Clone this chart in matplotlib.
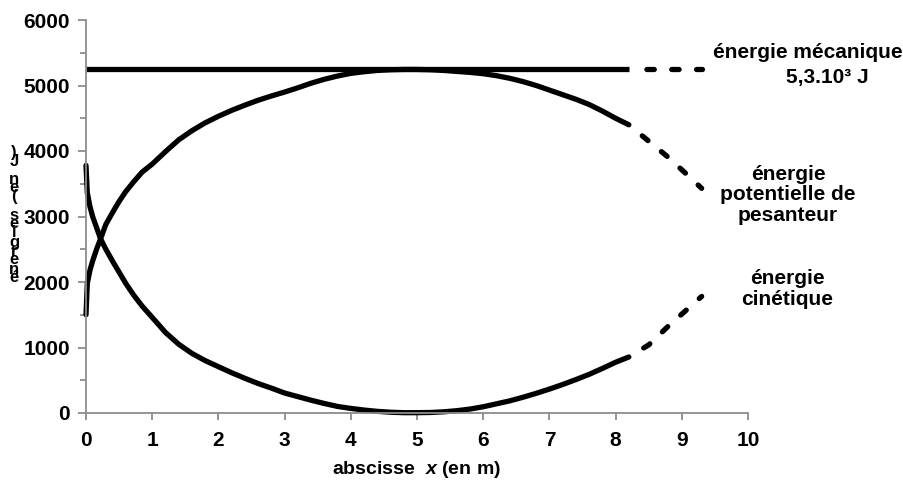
import matplotlib
matplotlib.use("Agg")
import matplotlib.pyplot as plt

plt.rcParams['font.family'] = ['Liberation Sans', 'DejaVu Sans']
plt.rcParams['mathtext.fontset'] = 'custom'
plt.rcParams['mathtext.it'] = 'Liberation Sans:italic:bold'
plt.rcParams['mathtext.rm'] = 'Liberation Sans:bold'

# measured part (solid)
x = [0, 0.02, 0.06, 0.1, 0.16, 0.22, 0.3, 0.4, 0.5, 0.6, 0.72, 0.85, 1.0,
     1.2, 1.4, 1.6, 1.8, 2.0, 2.2, 2.4, 2.6, 2.8, 3.0, 3.2, 3.4, 3.6, 3.8,
     4.0, 4.2, 4.4, 4.6, 4.8, 5.0, 5.2, 5.4, 5.6, 5.8, 6.0, 6.2, 6.4, 6.6,
     6.8, 7.0, 7.2, 7.4, 7.6, 7.8, 8.0, 8.2]
ec = [3780, 3360, 3150, 3000, 2830, 2660, 2500, 2320, 2150, 1980, 1800, 1630,
      1460, 1230, 1050, 910, 800, 707, 615, 530, 450, 380, 305, 250, 195, 145,
      100, 70, 45, 25, 12, 5, 5, 8, 18, 35, 60, 95, 140, 185, 240, 300, 365,
      435, 510, 590, 680, 775, 855]
ep = [1500, 1980, 2180, 2320, 2500, 2660, 2880, 3060, 3230, 3380, 3530, 3680,
      3800, 3990, 4170, 4310, 4430, 4530, 4620, 4700, 4775, 4840, 4900, 4965,
      5035, 5095, 5145, 5185, 5210, 5230, 5240, 5245, 5245, 5240, 5230, 5215,
      5200, 5180, 5150, 5110, 5060, 5000, 4930, 4860, 4790, 4710, 4610, 4500,
      4400]
em = 5250

# extrapolated part (dashed)
x_d = [8.2, 8.5, 8.8, 9.1, 9.3]
ec_d = [855, 1040, 1330, 1600, 1780]
ep_d = [4400, 4150, 3900, 3620, 3430]

ylabel = "énergies (en J)"
xlabel = r"abscisse  $x$ (en m)"
lab_em = ["énergie mécanique", "5,3.10³ J"]
lab_ep = "énergie\npotentielle de\npesanteur"
lab_ec = "énergie\ncinétique"

fig = plt.figure(figsize=(9.04, 4.8), dpi=100)
W, H = 904, 480
ax = fig.add_axes([86 / W, 1 - 413 / H, (748 - 86) / W, (413 - 20) / H])

lw = 3.8
dash = (1.4, (1.4, 3.3))
ax.plot([x[0], x[-1]], [em, em], color='black', lw=lw, solid_capstyle='butt', clip_on=False)
ax.plot(x, ep, color='black', lw=lw, solid_capstyle='round', solid_joinstyle='round', clip_on=False)
ax.plot(x, ec, color='black', lw=lw, solid_capstyle='round', solid_joinstyle='round', clip_on=False)
ax.plot([x_d[0], x_d[-1]], [em, em], color='black', lw=lw, linestyle=dash,
        dash_capstyle='round', clip_on=False)
ax.plot(x_d, ep_d, color='black', lw=lw, linestyle=dash, dash_capstyle='round', clip_on=False)
ax.plot(x_d, ec_d, color='black', lw=lw, linestyle=dash, dash_capstyle='round', clip_on=False)

ax.set_xlim(0, 10)
ax.set_ylim(0, 6000)
ax.set_xticks(range(0, 11))
ax.set_yticks(range(0, 6001, 1000))
ax.set_yticks(range(500, 6000, 1000), minor=True)

grey = '#8c8c8c'
for s in ['top', 'right']:
    ax.spines[s].set_visible(False)
for s in ['left', 'bottom']:
    ax.spines[s].set_color(grey)
    ax.spines[s].set_linewidth(1.3)
ax.tick_params(axis='both', which='both', color=grey, width=1.3, direction='out')
ax.tick_params(axis='y', which='major', length=5.5, pad=6, labelsize=15)
ax.tick_params(axis='y', which='minor', length=4.5)
ax.tick_params(axis='x', which='major', length=5, pad=8, labelsize=15)
for t in ax.get_xticklabels() + ax.get_yticklabels():
    t.set_fontweight('bold')

ax.set_xlabel(xlabel, fontsize=14, fontweight='bold')
ax.xaxis.set_label_coords(0.5, -0.145)
ax.xaxis.label.set_va('center')

# stacked y label (characters drawn upright, read bottom to top)
chars = list(ylabel)[::-1]
for i, c in enumerate(chars):
    fig.text(14 / W, 1 - (152 + i * 9) / H, c, fontsize=12, fontweight='bold',
             ha='center', va='center')

fs = 15
fig.text(808 / W, 1 - 53 / H, lab_em[0], fontsize=fs, fontweight='bold', ha='center', va='center')
fig.text(827 / W, 1 - 77 / H, lab_em[1], fontsize=fs, fontweight='bold', ha='center', va='center')
fig.text(788 / W, 1 - 195 / H, lab_ep, fontsize=fs, fontweight='bold', ha='center', va='center',
         linespacing=1.08)
fig.text(787 / W, 1 - 289 / H, lab_ec, fontsize=fs, fontweight='bold', ha='center', va='center',
         linespacing=1.08)

fig.savefig("out.png", dpi=100)
